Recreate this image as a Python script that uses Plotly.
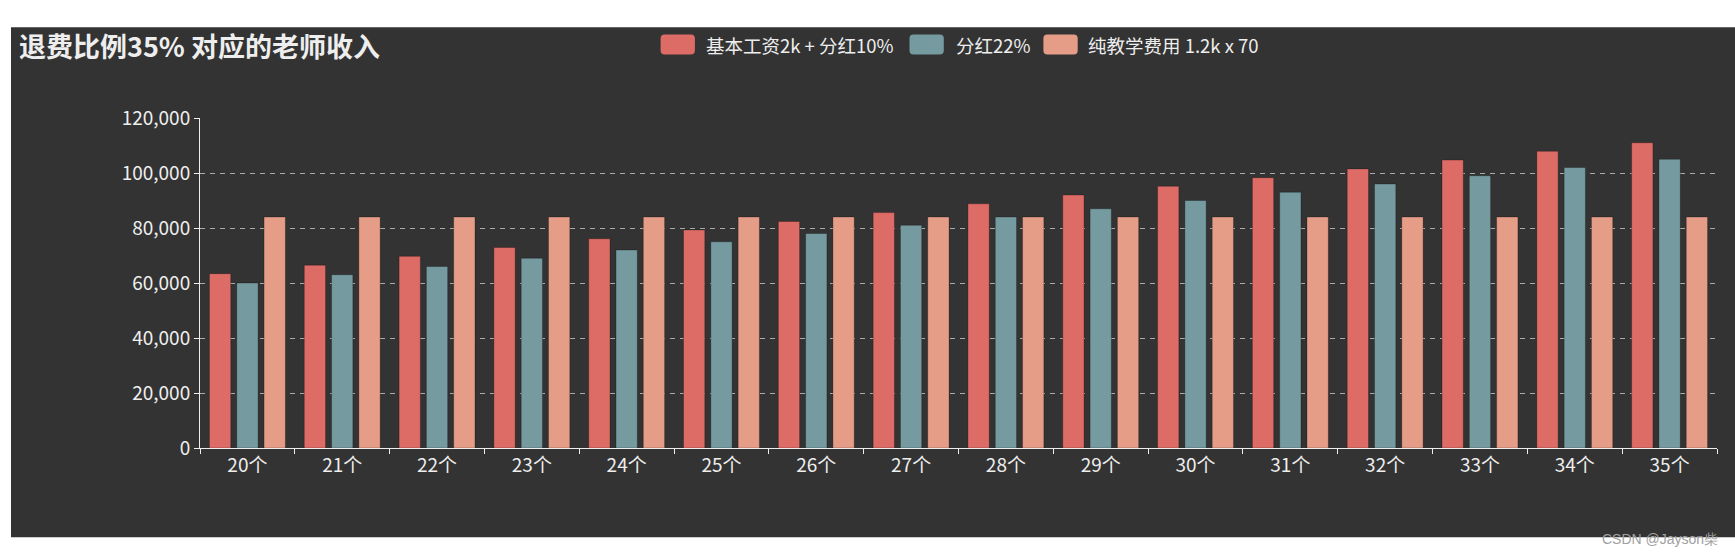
import plotly.graph_objects as go

categories = ["20个", "21个", "22个", "23个", "24个", "25个", "26个", "27个",
              "28个", "29个", "30个", "31个", "32个", "33个", "34个", "35个"]
base_plus_dividend = [63400, 66500, 69700, 72900, 76100, 79300, 82400, 85600,
                      88800, 92000, 95200, 98300, 101500, 104700, 107900, 111000]
dividend_22 = [60000, 63000, 66000, 69000, 72000, 75000, 78000, 81000,
               84000, 87000, 90000, 93000, 96000, 99000, 102000, 105000]
pure_teaching = [84000] * 16
series_names = ["基本工资2k + 分红10%", "分红22%", "纯教学费用 1.2k x 70"]
title_text = "退费比例35% 对应的老师收入"
watermark = "CSDN @Jayson柴"

colors = ["#dd6b66", "#759aa0", "#e69d87"]
FONT = "Noto Sans CJK SC"

W, H = 1735, 557
L, R, T, B = 200, 18, 117.7, 109.3
pw = W - L - R
ph = H - T - B


def px_x(x):
    return (x - L) / pw


def px_y(y):
    return (H - B - y) / ph


def rounded_rect(x0, y0, x1, y1, r):
    pts = [
        ("M", [(x0 + r, y0)]),
        ("L", [(x1 - r, y0)]),
        ("Q", [(x1, y0), (x1, y0 + r)]),
        ("L", [(x1, y1 - r)]),
        ("Q", [(x1, y1), (x1 - r, y1)]),
        ("L", [(x0 + r, y1)]),
        ("Q", [(x0, y1), (x0, y1 - r)]),
        ("L", [(x0, y0 + r)]),
        ("Q", [(x0, y0), (x0 + r, y0)]),
    ]
    s = ""
    for cmd, ps in pts:
        s += cmd + " " + " ".join(f"{px_x(a):.5f},{px_y(b):.5f}" for a, b in ps) + " "
    return s + "Z"


fig = go.Figure()
for name, vals, c in zip(series_names, [base_plus_dividend, dividend_22, pure_teaching], colors):
    fig.add_trace(go.Bar(
        x=categories, y=vals, name=name, showlegend=False,
        marker=dict(color=c, line=dict(color="rgba(0,0,0,0.25)", width=1)),
    ))

# legend (icons + labels), laid out like the original
legend_icon_x = [660.6, 909.5, 1043.4]
legend_text_x = [703.7, 953.8, 1085.5]
shapes = [dict(
    type="rect", xref="paper", yref="paper",
    x0=px_x(11), x1=px_x(1736), y0=px_y(537), y1=px_y(27),
    fillcolor="#333333", line=dict(width=0), layer="below",
)]
annotations = []
for name, c, ix, tx in zip(series_names, colors, legend_icon_x, legend_text_x):
    shapes.append(dict(
        type="path", xref="paper", yref="paper",
        path=rounded_rect(ix, 34.3, ix + 34.3, 54.3, 4),
        fillcolor=c, line=dict(width=0), layer="above",
    ))
    annotations.append(dict(
        text=name, xref="paper", yref="paper",
        x=px_x(tx), xanchor="left", y=px_y(44.3), yanchor="middle",
        showarrow=False,
        font=dict(family=FONT, size=18.5, color="#eeeeee"),
    ))

annotations += [
    dict(text=title_text, xref="paper", yref="paper",
         x=px_x(17), xanchor="left", y=px_y(45.5), yanchor="middle",
         showarrow=False,
         font=dict(family=FONT, size=27, color="#eeeeee", weight="bold")),
    dict(text=watermark, xref="paper", yref="paper",
         x=px_x(1720), xanchor="right", y=px_y(539), yanchor="middle",
         showarrow=False,
         font=dict(family="Liberation Sans", size=14, color="#a0a0a0")),
]

fig.update_layout(
    width=W, height=H,
    margin=dict(l=L, r=R, t=T, b=B),
    paper_bgcolor="white",
    plot_bgcolor="#333333",
    barmode="group",
    bargap=0.136,
    bargroupgap=0.22,
    font=dict(family=FONT, color="#eeeeee", size=16),
    showlegend=False,
    shapes=shapes,
    annotations=annotations,
)

fig.update_xaxes(
    type="category",
    showline=True, linecolor="#eeeeee", linewidth=1,
    ticks="outside", tickson="boundaries", ticklen=5, tickcolor="#eeeeee",
    tickfont=dict(size=19, color="#eeeeee", family=FONT),
    showgrid=False, zeroline=False,
)
fig.update_yaxes(
    range=[0, 120000], tickvals=[0, 20000, 40000, 60000, 80000, 100000, 120000],
    tickformat=",d",
    showline=True, linecolor="#eeeeee", linewidth=1,
    ticks="outside", ticklen=5, tickcolor="#eeeeee",
    tickfont=dict(size=19, color="#eeeeee", family=FONT),
    showgrid=True, gridcolor="#aaaaaa", gridwidth=1, griddash="5px,5px",
    zeroline=False,
)

fig.write_html("out.html")
